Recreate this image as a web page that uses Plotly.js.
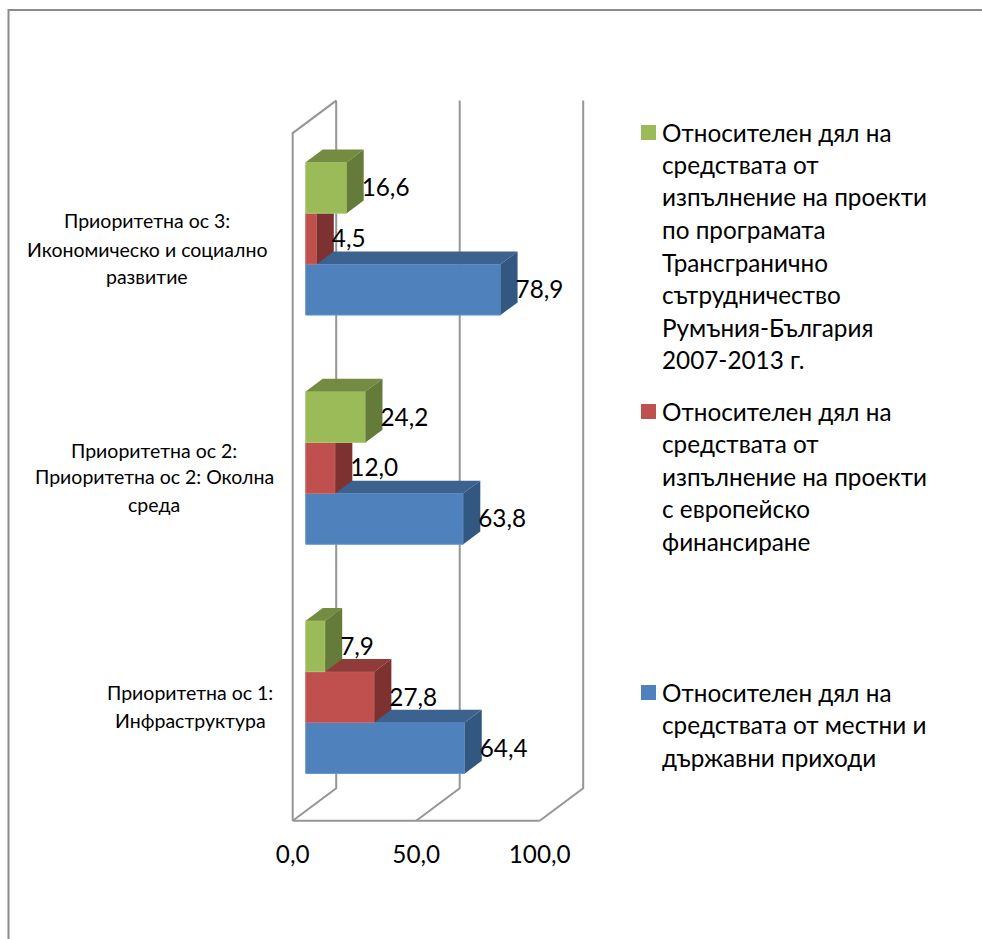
<!DOCTYPE html>
<html><head><meta charset="utf-8">
<script src="https://cdn.plot.ly/plotly-3.0.1.min.js"></script>
<style>html,body{margin:0;padding:0;background:#fff;overflow:hidden}</style>
</head><body><div id="chart" style="width:982px;height:939px"></div>
<script>
// ---- data ----
const categories = [
  ['Приоритетна ос 1:', 'Инфраструктура'],
  ['Приоритетна ос 2:', 'Приоритетна ос 2: Околна', 'среда'],
  ['Приоритетна ос 3:', 'Икономическо и социално', 'развитие']
];
const localState = [64.4, 63.8, 78.9];
const european   = [27.8, 12.0, 4.5];
const crossBorder = [7.9, 24.2, 16.6];
const seriesNames = [
  ['Относителен дял на', 'средствата от местни и', 'държавни приходи'],
  ['Относителен дял на', 'средствата от', 'изпълнение на проекти', 'с европейско', 'финансиране'],
  ['Относителен дял на', 'средствата от', 'изпълнение на проекти', 'по програмата', 'Трансгранично', 'сътрудничество', 'Румъния-България', '2007-2013 г.']
];
const xTicks = [0, 50, 100];
const xTickText = ['0,0', '50,0', '100,0'];

// ---- style / geometry ----
const W = 982, H = 939;
const FONT = 'Lato, "Noto Sans", sans-serif';
const L = 280, T = 90, R = 600, B = 835;   // plot box (px), a little wider than the 3D walls
const X0 = 292.7, Y0 = 820.7;              // px of x=0 and of the front floor edge
const PX_X = 2.47, PX_Y = 229.2;           // px per data unit
const xRange = [(L - X0) / PX_X, (R - X0) / PX_X];
const yRange = [-0.5 - (B - Y0) / PX_Y, -0.5 + (Y0 - T) / PX_Y];
const wallDX = 43.5 / PX_X, wallDY = 32.5 / PX_Y;
const barDX = 17 / PX_X, barDY = 12.7 / PX_Y;
const baseX = 13 / PX_X, baseY = 9 / PX_Y;
const barH = 1 / 4.5;
const labelDX = -2 / PX_X, labelDY = -2.5 / PX_Y;
const colors = [
  {front: '#4F81BD', top: '#3C6390', side: '#325780', edge: '#6C97CC'},
  {front: '#C0504D', top: '#8F3B39', side: '#7D3231', edge: '#CB6F6C'},
  {front: '#9BBB59', top: '#738C41', side: '#657B39', edge: '#ADC877'}
];
const seriesValues = [localState, european, crossBorder];
const fx = p => (p - L) / (R - L);
const fy = p => (B - p) / (B - T);

const traces = [];
// walls and gridlines
const wx = [], wy = [];
const yLo = -0.5, yHi = yLo + categories.length;
xTicks.forEach(t => {
  wx.push(t, t + wallDX, t + wallDX, null);
  wy.push(yLo, yLo + wallDY, yHi + wallDY, null);
});
wx.push(0, 0, wallDX, null, 0, xTicks[2]);
wy.push(yLo, yHi, yHi + wallDY, null, yLo, yLo);
traces.push({type: 'scatter', mode: 'lines', x: wx, y: wy, zorder: 0, showlegend: false,
  hoverinfo: 'skip', line: {color: '#969696', width: 2}});

seriesValues.forEach((vals, s) => {
  const c = colors[s];
  const ys = vals.map((_, i) => i + baseY + (s - 1) * barH);
  traces.push({type: 'bar', orientation: 'h', x: vals, y: ys, base: vals.map(() => baseX),
    width: barH, zorder: s + 1, name: seriesNames[s].join(' '), showlegend: false,
    marker: {color: c.front, line: {width: 1, color: c.edge}}});
  vals.forEach((v, i) => {
    const x1 = baseX + v, y0 = ys[i] - barH / 2, y1 = ys[i] + barH / 2;
    traces.push({type: 'scatter', mode: 'lines', fill: 'toself', fillcolor: c.top, zorder: s + 1,
      x: [baseX, x1, x1 + barDX, baseX + barDX, baseX], y: [y1, y1, y1 + barDY, y1 + barDY, y1],
      line: {width: 0, color: c.top}, showlegend: false, hoverinfo: 'skip'});
    traces.push({type: 'scatter', mode: 'lines', fill: 'toself', fillcolor: c.side, zorder: s + 1,
      x: [x1, x1 + barDX, x1 + barDX, x1, x1], y: [y0, y0 + barDY, y1 + barDY, y1, y0],
      line: {width: 0, color: c.side}, showlegend: false, hoverinfo: 'skip'});
  });
  traces.push({type: 'scatter', mode: 'text', zorder: 5, cliponaxis: false, showlegend: false,
    x: vals.map(v => baseX + v + barDX + labelDX), y: ys.map(y => y + labelDY), hoverinfo: 'skip',
    text: vals.map(v => v.toFixed(1).replace('.', ',')), textposition: 'middle right',
    textfont: {family: FONT, size: 24.3, color: '#000'}});
});

const annotations = [], shapes = [];
// category labels, one line at a time
const catCenters = [190, 154, 147];
const catLineY = [[692, 720], [450, 476, 504], [221, 249, 276]];
categories.forEach((lines, i) => lines.forEach((t, j) => annotations.push({
  xref: 'paper', yref: 'paper', x: fx(catCenters[i]), y: fy(catLineY[i][j]), text: t, showarrow: false,
  xanchor: 'center', yanchor: 'middle', font: {family: FONT, size: 19.5, color: '#000'}
})));
// legend
const legendTop = [692, 411, 132];
seriesNames.forEach((lines, s) => {
  lines.forEach((t, j) => annotations.push({
    xref: 'paper', yref: 'paper', x: fx(662), y: fy(legendTop[s] + j * 32.5), text: t, showarrow: false,
    xanchor: 'left', yanchor: 'middle', xshift: -2, font: {family: FONT, size: 24.3, color: '#000'}
  }));
  shapes.push({type: 'rect', xref: 'paper', yref: 'paper', x0: fx(641), x1: fx(656),
    y0: fy(legendTop[s] - 7), y1: fy(legendTop[s] + 8), fillcolor: colors[s].front, line: {width: 0}});
});
// outer frame (top and left edges)
shapes.push({type: 'path', xref: 'paper', yref: 'paper', line: {color: '#8C8C8C', width: 2},
  path: `M ${fx(8.5)} ${fy(940)} L ${fx(8.5)} ${fy(10)} L ${fx(983)} ${fy(10)}`});

const layout = {
  width: W, height: H, paper_bgcolor: '#fff', plot_bgcolor: 'rgba(0,0,0,0)',
  margin: {l: L, r: W - R, t: T, b: H - B, pad: 0},
  barmode: 'overlay', showlegend: false,
  xaxis: {range: xRange, tickmode: 'array', tickvals: xTicks, ticktext: xTickText, showgrid: false,
    zeroline: false, showline: false, ticks: '', ticklabelstandoff: 3,
    tickfont: {family: FONT, size: 24.3, color: '#000'}},
  yaxis: {range: yRange, showgrid: false, zeroline: false, showline: false, showticklabels: false, ticks: ''},
  annotations, shapes
};
Plotly.newPlot('chart', traces, layout, {displayModeBar: false, staticPlot: true});
</script></body></html>
